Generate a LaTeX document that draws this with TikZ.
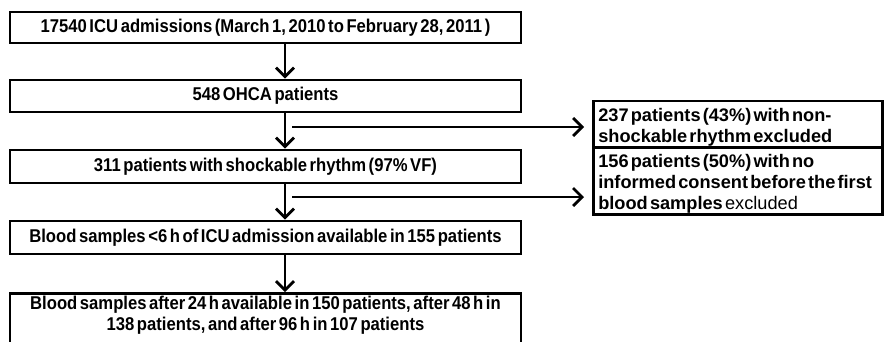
\documentclass[tikz,border=0pt]{standalone}
\usepackage{fontspec}
\setmainfont{Liberation Sans}
\newfontfamily\condfont[FakeStretch=0.9]{Liberation Sans}
\usetikzlibrary{arrows.meta,shadows}
\newcommand{\mainfnt}{\condfont\fontsize{18.5}{21}\selectfont\bfseries\spaceskip=0.14em plus 0.05em\relax}
\newcommand{\sidefnt}{\fontsize{18.2}{21}\selectfont\bfseries}
\newcommand{\tsp}{\spaceskip=0.12em\relax\xspaceskip=0.12em\relax}
\tikzset{
  boxbase/.style={draw, fill=white, line width=2.6pt, drop shadow={shadow xshift=1.2pt, shadow yshift=-1.2pt, fill=black, opacity=1}},
  mainbox/.style={boxbase, minimum width=511pt, align=center, inner sep=2pt, font=\mainfnt},
  sidebox/.style={boxbase, minimum width=289pt, align=left, anchor=west, inner xsep=5pt, inner ysep=1pt, font=\sidefnt, text width=279pt, text height=19pt},
  flow/.style={line width=2.8pt, -{Straight Barb[length=9pt,width=18pt,line width=2.8pt]}},
}
\begin{document}
\begin{tikzpicture}[x=1pt,y=-1pt]
\useasboundingbox (0,0) rectangle (884,341);
\node[mainbox, minimum height=31pt] (b1) at (265.5,27.5) {17540 ICU admissions (March 1, 2010 to February 28, 2011 )};
\node[mainbox, minimum height=32pt] (b2) at (265.5,96) {548 OHCA patients};
\node[mainbox, minimum height=33pt] (b3) at (265.5,166.5) {311 patients with shockable rhythm (97\% VF)};
\node[mainbox, minimum height=33pt] (b4) at (265.5,237.5) {Blood samples <6 h of ICU admission available in 155 patients};
\node[mainbox, anchor=north, inner ysep=3pt, text depth=20pt] (b5) at (265.5,292) {Blood samples after 24 h available in 150 patients, after 48 h in\\138 patients, and after 96 h in 107 patients};
\node[sidebox, minimum height=42pt] (sa) at (592,124) {\tsp 237 patients (43\%) with non-\\shockable rhythm excluded};
\node[sidebox, minimum height=62pt] (sb) at (592,181) {\tsp 156 patients (50\%) with no\\informed consent before the first\\blood samples {\mdseries excluded}};
\coordinate (ax) at (285,0);
\coordinate (h1) at (292,127);
\coordinate (h2) at (292,197);
\draw[flow] (b1.south -| ax) -- (b2.north -| ax);
\draw[flow] (b2.south -| ax) -- (b3.north -| ax);
\draw[flow] (b3.south -| ax) -- (b4.north -| ax);
\draw[flow] (b4.south -| ax) -- (b5.north -| ax);
\draw[flow, shorten >=8pt] (h1) -- (h1 -| sa.west);
\draw[flow, shorten >=8pt] (h2) -- (h2 -| sb.west);
\end{tikzpicture}
\end{document}
